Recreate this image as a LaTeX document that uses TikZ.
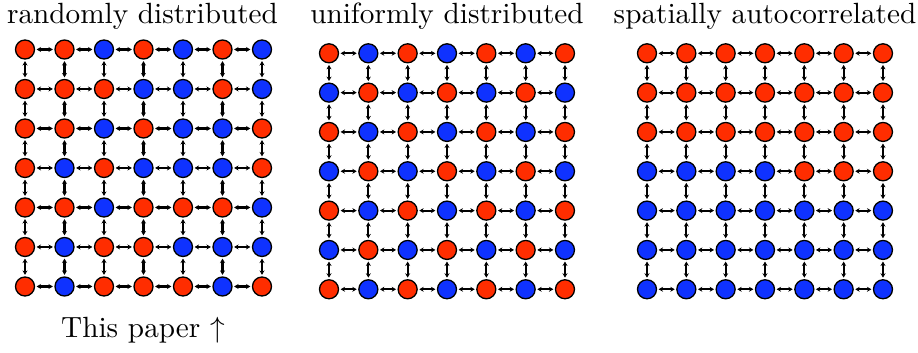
\documentclass[tikz,border=0pt]{standalone}
\usetikzlibrary{arrows.meta}
\definecolor{R}{RGB}{255,45,0}
\definecolor{B}{RGB}{15,50,255}
\newcommand\mygrid[5]{%
  \foreach \c [count=\k from 0] in {#5} {
    \pgfmathtruncatemacro\rr{div(\k,7)}
    \pgfmathtruncatemacro\cc{mod(\k,7)}
    \node[site,fill=\c] (#1-\rr-\cc) at ({#2+\cc*#4},{#3+\rr*#4}) {};
  }
  \foreach \rr in {0,...,6} {
    \foreach \cc [evaluate=\cc as \nn using int(\cc+1)] in {0,...,5} {
      \draw[link] (#1-\rr-\cc) -- (#1-\rr-\nn);
      \draw[link] (#1-\cc-\rr) -- (#1-\nn-\rr);
    }
  }
}
\begin{document}
\begin{tikzpicture}[x=0.342pt,y=-0.342pt,
  site/.style={circle,draw=black,line width=0.45pt,minimum size=6.5pt,inner sep=0pt},
  link/.style={{Stealth[length=1.5pt,width=1.7pt]}-{Stealth[length=1.5pt,width=1.7pt]},line width=0.7pt,shorten >=0.5pt,shorten <=0.5pt},
  title/.style={anchor=base,font=\normalfont}]
\useasboundingbox (0,0) rectangle (918,353);
\mygrid{a}{25}{49.5}{39.5}{R,R,B,R,B,R,B,
R,R,R,B,B,R,B,
R,R,B,R,B,B,R,
R,B,R,B,B,B,R,
R,R,B,R,R,R,B,
R,B,R,R,B,B,B,
R,B,R,R,R,B,R}
\mygrid{b}{329}{53.3}{39.33}{R,B,R,B,R,B,R,
B,R,B,R,B,R,B,
R,B,R,B,R,B,R,
B,R,B,R,B,R,B,
R,B,R,B,R,B,R,
B,R,B,R,B,R,B,
R,B,R,B,R,B,R}
\mygrid{c}{647}{53.3}{39.33}{R,R,R,R,R,R,R,
R,R,R,R,R,R,R,
R,R,R,R,R,R,R,
B,B,B,B,R,R,R,
B,B,B,B,B,B,B,
B,B,B,B,B,B,B,
B,B,B,B,B,B,B}
\node[title] (t1) at (142.5,23.5) {randomly distributed};
\node[title] (t2) at (447,23.5) {uniformly distributed};
\node[title] (t3) at (765,23.5) {spatially autocorrelated};
\node[title] (tp) at (143,337.5) {This paper $\uparrow$};
\end{tikzpicture}
\end{document}
